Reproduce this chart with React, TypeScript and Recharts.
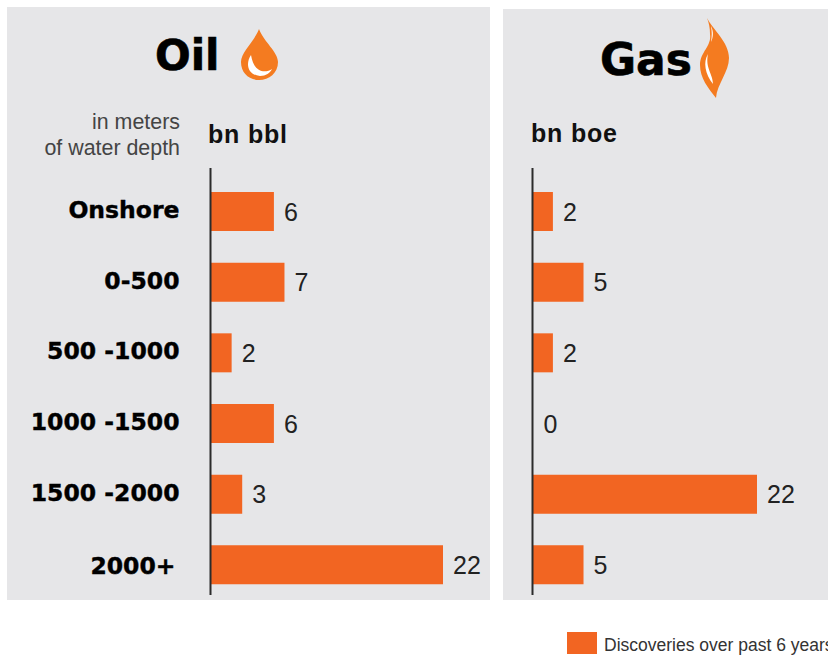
import { BarChart, Bar, Cell, XAxis, YAxis, LabelList } from "recharts";

const depths = ["Onshore", "0-500", "500 -1000", "1000 -1500", "1500 -2000", "2000+"];
const oilValues = [6, 7, 2, 6, 3, 22];
const gasValues = [2, 5, 2, 0, 22, 5];
const maxValue = 22;

const oilData = depths.map((depth, i) => ({ depth, value: oilValues[i], label: String(oilValues[i]) }));
const gasData = depths.map((depth, i) => ({ depth, value: gasValues[i], label: String(gasValues[i]) }));

const ORANGE = "#f26522";
const PANEL = "#e6e6e8";
const SANS = "'Liberation Sans', Arial, sans-serif";
const HEAVY = "'DejaVu Sans', sans-serif";

function DepthTick({ x, y, payload }: { x?: number; y?: number; payload?: { value: string } }) {
  const label = payload?.value ?? "";
  const isLast = label === "2000+";
  return (
    <text
      x={(x ?? 0) - (isLast ? 5 : 1)}
      y={(y ?? 0) + (isLast ? 9 : 6.5)}
      textAnchor="end"
      fontFamily={HEAVY}
      fontSize={23.5}
      fontWeight={700}
      fill="#000"
      stroke="#000"
      strokeWidth={0.4}
    >
      {label}
    </text>
  );
}

// Drawn by hand so that a zero-length bar still gets its number
function ValueLabel({ x, y, width, height, value }: any) {
  return (
    <text
      x={Number(x) + Number(width) + 10}
      y={Number(y) + Number(height) / 2 + 9}
      fill="#222"
      fontFamily={SANS}
      fontSize={25}
    >
      {value}
    </text>
  );
}

function DepthChart({
  data,
  width,
  left,
  right,
  showTicks,
}: {
  data: { depth: string; value: number; label: string }[];
  width: number;
  left: number;
  right: number;
  showTicks: boolean;
}) {
  return (
    <BarChart
      width={width}
      height={656}
      data={data}
      layout="vertical"
      margin={{ top: 168, right, bottom: 61, left: 0 }}
      barCategoryGap={0}
    >
      <XAxis type="number" domain={[0, maxValue]} hide />
      <YAxis
        type="category"
        dataKey="depth"
        width={left}
        interval={0}
        axisLine={{ stroke: "#2b2b2b", strokeWidth: 2 }}
        tickLine={false}
        tickSize={0}
        tickMargin={30}
        tick={showTicks ? <DepthTick /> : false}
        padding={{ top: 8, bottom: -5 }}
      />
      {/* minPointSize keeps the zero row in the bar list; its cell stays unfilled */}
      <Bar dataKey="value" fill={ORANGE} barSize={39} minPointSize={1} isAnimationActive={false}>
        {data.map((row) => (
          <Cell key={row.depth} fill={row.value === 0 ? "none" : ORANGE} />
        ))}
        <LabelList dataKey="label" content={<ValueLabel />} />
      </Bar>
    </BarChart>
  );
}

// Titles, units and the two little icons sit on top of the charts
function Headings() {
  return (
    <svg width={828} height={656} style={{ position: "absolute", left: 0, top: 0 }}>
      <g fontFamily={HEAVY} fontWeight={700} fill="#000" stroke="#000" strokeWidth={0.6}>
        <text x={155} y={70} fontSize={42}>
          Oil
        </text>
        <text x={600} y={75} fontSize={44}>
          Gas
        </text>
      </g>
      <g fontFamily={SANS} fontWeight={700} fill="#111" fontSize={25}>
        <text x={208} y={143} letterSpacing={0.8}>
          bn bbl
        </text>
        <text x={531} y={142} letterSpacing={0.8}>
          bn boe
        </text>
      </g>
      <g fontFamily={SANS} fontSize={21.4} fill="#444" textAnchor="end">
        <text x={180} y={129}>
          in meters
        </text>
        <text x={180} y={155}>
          of water depth
        </text>
      </g>

      {/* oil drop */}
      <path
        d="M259 29 C264 42 278 52 278 62 C278 73 269 80 259 80 C249 80 241 73 241 62 C241 52 254 42 259 29 Z"
        fill="#f47b20"
      />
      <path
        d="M251 55 C245 64 248 75 260 76 C266 76 270 73 272 69 C266 73 254 74 251 55 Z"
        fill="#fff"
      />

      {/* gas flame */}
      <path
        d="M707 18 C713 30 729 42 729 58 C729 72 717 84 716 98 C708 88 700 78 700 65 C700 52 712 46 710 34 C710 28 709 23 707 18 Z"
        fill="#f47b20"
      />
      <path d="M708 54 C703 62 705 74 713 84 C713 74 705 68 708 54 Z" fill="#fff" />
      <path d="M711 26 C714 32 713 38 711 42 C712 36 712 32 711 26 Z" fill="#fff" />
    </svg>
  );
}

export default function App() {
  return (
    <div
      style={{
        position: "absolute",
        left: 0,
        top: 0,
        width: 828,
        height: 656,
        overflow: "hidden",
        background: "#fff",
      }}
    >
      <div style={{ position: "absolute", left: 7, top: 7, width: 483, height: 593, background: PANEL }} />
      <div style={{ position: "absolute", left: 503, top: 9, width: 325, height: 591, background: PANEL }} />

      <div style={{ position: "absolute", left: 0, top: 0 }}>
        <DepthChart data={oilData} width={490} left={210.5} right={47} showTicks />
      </div>
      <div style={{ position: "absolute", left: 0, top: 0 }}>
        <DepthChart data={gasData} width={828} left={532.5} right={71} showTicks={false} />
      </div>

      <Headings />

      <div style={{ position: "absolute", left: 567, top: 632, width: 30, height: 22, background: ORANGE }} />
      <div
        style={{
          position: "absolute",
          left: 604,
          top: 635,
          fontFamily: SANS,
          fontSize: 17.5,
          color: "#333",
          whiteSpace: "nowrap",
        }}
      >
        Discoveries over past 6 years
      </div>
    </div>
  );
}
